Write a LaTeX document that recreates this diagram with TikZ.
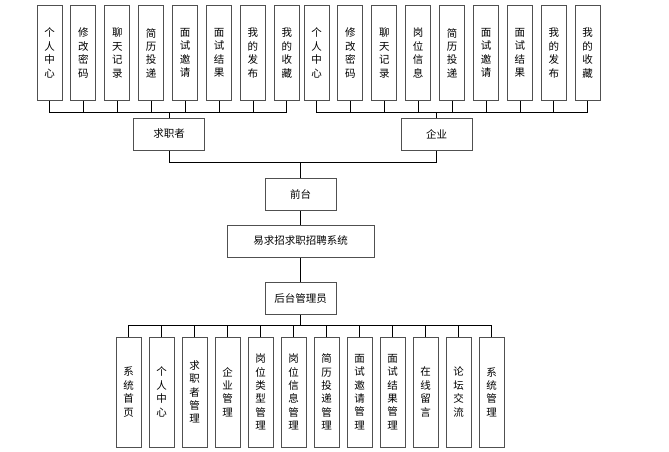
\documentclass[tikz,border=0pt]{standalone}
\usepackage{fontspec}
\setmainfont{Noto Sans CJK SC}
\usetikzlibrary{positioning}
\definecolor{ymInk} {HTML}{000000}
\definecolor{ymEdge}{HTML}{505050}

\begin{document}
\begin{tikzpicture}[x=1pt, y=-1pt,
  every node/.style ={font=\fontsize{10.5}{13.4}\selectfont, text=ymInk},
  vbox/.style       ={draw=ymEdge, line width=1pt, minimum width=25pt, minimum height=94pt, inner sep=0pt, align=center},
  lbox/.style       ={draw=ymEdge, line width=1pt, minimum width=25pt, minimum height=110pt, inner sep=0pt, align=center},
  hbox/.style       ={draw=ymEdge, line width=1pt, minimum width=71pt, minimum height=32pt, inner sep=0pt},
  wbox/.style       ={draw=ymEdge, line width=1pt, minimum width=147pt, minimum height=32pt, inner sep=0pt},
  link/.style       ={line width=0.8pt, ymInk},
]

\useasboundingbox (0,0) rectangle (669,452);

\def\yTop{53}\def\yBarA{112}\def\yRole{134}\def\yBarB{162}
\def\yFront{194.5}\def\ySys{241}\def\yAdmin{298.5}\def\yBarC{325}\def\yLow{392}

% front end: job seeker and company
\node[hbox] (qz) at (169,\yRole)   {求职者};
\node[hbox] (qy) at (436.5,\yRole) {企业};
\coordinate (jbar) at (169,\yBarA);
\coordinate (ebar) at (436.5,\yBarA);

\foreach \t [count=\i from 0] in {{个\\人\\中\\心},{修\\改\\密\\码},{聊\\天\\记\\录},{简\\历\\投\\递},
    {面\\试\\邀\\请},{面\\试\\结\\果},{我\\的\\发\\布},{我\\的\\收\\藏}}{
  \node[vbox] (ja\i) at ({49.5+33.9*\i},\yTop) {\t};
  \draw[link] (ja\i.south) |- (jbar);
}
\foreach \t [count=\i from 0] in {{个\\人\\中\\心},{修\\改\\密\\码},{聊\\天\\记\\录},{岗\\位\\信\\息},{简\\历\\投\\递},
    {面\\试\\邀\\请},{面\\试\\结\\果},{我\\的\\发\\布},{我\\的\\收\\藏}}{
  \node[vbox] (ea\i) at ({316.5+33.9*\i},\yTop) {\t};
  \draw[link] (ea\i.south) |- (ebar);
}
\draw[link] (jbar) -- (qz.north);
\draw[link] (ebar) -- (qy.north);

% centre column
\node[hbox] (qt) at (300.5,\yFront) {前台};
\node[wbox] (xt) at (300.5,\ySys)   {易求招求职招聘系统};
\node[hbox] (ht) at (300.5,\yAdmin) {后台管理员};
\coordinate (fbar) at (300.5,\yBarB);
\draw[link] (qz.south) |- (fbar);
\draw[link] (qy.south) |- (fbar);
\draw[link] (fbar) -- (qt.north);
\draw[link] (qt) -- (xt);
\draw[link] (xt) -- (ht);

% back end: admin modules
\coordinate (hbar) at (300.5,\yBarC);
\draw[link] (ht.south) -- (hbar);
\foreach \t [count=\i from 0] in {{系\\统\\首\\页},{个\\人\\中\\心},{求\\职\\者\\管\\理},{企\\业\\管\\理},
    {岗\\位\\类\\型\\管\\理},{岗\\位\\信\\息\\管\\理},{简\\历\\投\\递\\管\\理},{面\\试\\邀\\请\\管\\理},
    {面\\试\\结\\果\\管\\理},{在\\线\\留\\言},{论\\坛\\交\\流},{系\\统\\管\\理}}{
  \node[lbox] (gl\i) at ({128.5+33*\i},\yLow) {\t};
  \draw[link] (hbar) -| (gl\i.north);
}

\end{tikzpicture}
\end{document}
